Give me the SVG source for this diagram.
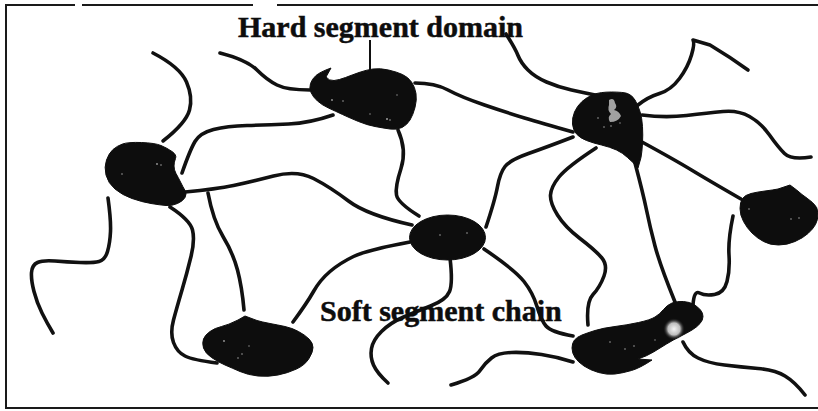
<svg xmlns="http://www.w3.org/2000/svg" width="818" height="411" viewBox="0 0 818 411">
  <style>
    .frame { fill: none; stroke: #1a1a1a; stroke-width: 2; }
    .chain { fill: none; stroke: #111; stroke-width: 3.6; stroke-linecap: round; stroke-linejoin: round; }
    .pointer { fill: none; stroke: #111; stroke-width: 2; }
    .domain { fill: #0d0d0d; stroke: #0d0d0d; stroke-width: 1; stroke-linejoin: round; }
    .speck { fill: #fff; opacity: 0.6; }
    .label { font-family: "Liberation Serif", "Times New Roman", serif; font-weight: bold; font-size: 30px; fill: #0d0d0d; stroke: #0d0d0d; stroke-width: 0.5; }
  </style>
  <defs>
    <radialGradient id="glint" cx="0.5" cy="0.5" r="0.5">
      <stop offset="0" stop-color="#f4f4f4"/>
      <stop offset="0.55" stop-color="#bdbdbd"/>
      <stop offset="1" stop-color="#0d0d0d" stop-opacity="0"/>
    </radialGradient>
  </defs>

  <rect width="818" height="411" fill="#fff"/>

  <!-- border (left, top, bottom) -->
  <path class="frame" d="M6,5 H75 M82,5 H253 M277,5 H818 M6,4 V408 H818"/>

  <!-- soft segment chains -->
  <g id="connectors">
    <path class="chain" d="M153,53 Q180,67 186.5,82 Q193,97 189.5,110 Q186,123 163,141"/>
    <path class="chain" d="M220,53 Q247,60 257,70 Q267,80 277,85 Q287,90 310,90"/>
    <path class="chain" d="M333,115 Q310,123 288.5,124 Q267,125 247,125.5 Q227,126 213.5,129.5 Q200,133 195,141.5 Q190,150 182,173"/>
    <path class="chain" d="M185,192 Q217,189 233.5,185.5 Q250,182 273.5,176 Q297,170 313.5,178.5 Q330,187 348.5,201 Q367,215 412,225"/>
    <path class="chain" d="M398,130 Q407,150 401,168.5 Q395,187 396.5,195 Q398,203 419,216"/>
    <path class="chain" d="M170,207 Q190,220 192.5,230 Q195,240 191,256.5 Q187,273 182,290 Q177,307 173.5,320 Q170,333 173.5,342.5 Q177,352 185,356 Q193,360 217,363"/>
    <path class="chain" d="M208,193 Q213,220 223,236.5 Q233,253 237.5,270 Q242,287 244,310"/>
    <path class="chain" d="M108,198 Q111,220 110.5,231.5 Q110,243 107.5,251.5 Q105,260 99,261.5 Q93,263 80,262.5 Q67,262 55,261 Q43,260 37.5,262.5 Q32,265 31.5,272.5 Q31,280 34,291.5 Q37,303 42,313 Q47,323 53,333"/>
    <path class="chain" d="M410,242 Q367,250 353.5,256.5 Q340,263 330,271.5 Q320,280 313.5,291.5 Q307,303 293,322"/>
    <path class="chain" d="M450,258 Q453,283 449.5,291.5 Q446,300 430.5,306 Q415,312 402.5,317.5 Q390,323 381.5,331.5 Q373,340 371.5,348.5 Q370,357 373.5,365 Q377,373 388,383"/>
    <path class="chain" d="M484,249 Q515,270 524,281.5 Q533,293 537,306.5 Q541,320 546,326 Q551,332 573,336"/>
    <path class="chain" d="M486,227 Q495,200 497.5,186.5 Q500,173 505,166.5 Q510,160 528.5,153.5 Q547,147 573,137"/>
    <path class="chain" d="M415,83 Q435,83 448,90 Q461,97 484.5,105 Q508,113 524.5,118 Q541,123 573,132"/>
    <path class="chain" d="M506,34 Q515,48 518,55.5 Q521,63 528,70 Q535,77 546.5,82 Q558,87 571.5,90 Q585,93 600,96"/>
    <path class="chain" d="M638,105 Q648,97 659.5,93.5 Q671,90 679.5,78.5 Q688,67 691.5,55 Q695,43 693,40 L710,45 Q730,57 748,70"/>
    <path class="chain" d="M642,115 Q665,118 686.5,115.5 Q708,113 723,111.5 Q738,110 749.5,116.5 Q761,123 769.5,135 Q778,147 784.5,153.5 Q791,160 811,157"/>
    <path class="chain" d="M642,142 Q675,160 691.5,170 Q708,180 741,199"/>
    <path class="chain" d="M596,148 Q567,167 559,177 Q551,187 550.5,195 Q550,203 557.5,215 Q565,227 580,238.5 Q595,250 601.5,257.5 Q608,265 604,276 Q600,287 593,294.5 Q586,302 588,325"/>
    <path class="chain" d="M635,163 Q643,193 646.5,210 Q650,227 655,246 Q660,265 675,302"/>
    <path class="chain" d="M733,216 Q728,240 729,255 Q730,270 727,281.5 Q724,293 714.5,294.5 Q705,296 699.5,293 Q694,290 693,305"/>
    <path class="chain" d="M683,342 Q688,353 698,358 Q708,363 724.5,365 Q741,367 758,368.5 Q775,370 785,376 Q795,382 805,395"/>
    <path class="chain" d="M573,362 Q558,357 541.5,354.5 Q525,352 511.5,352.5 Q498,353 491.5,358 Q485,363 480,370.5 Q475,378 451,385"/>
    <path class="pointer" d="M370,40 V71"/>
  </g>

  <!-- hard segment domains -->
  <g id="domain-a">
    <path class="domain" d="M122.5,144 Q128,142 141.5,142.5 Q155,143 161,145.5 Q167,148 172,151.5 Q177,155 175.5,158.5 Q174,162 174,166 Q174,170 176,173.5 Q178,177 180.5,182 Q183,187 185,190.5 Q187,194 185,197.5 Q183,201 177.5,203.5 Q172,206 166,205.5 Q160,205 151,203.5 Q142,202 132,198.5 Q122,195 115,189 Q108,183 106,175 Q104,167 106.5,160 Q109,153 113,149.5 Q117,146 122.5,144 Z"/>
    <circle class="speck" cx="157" cy="164" r="0.9"/>
    <circle class="speck" cx="161" cy="165" r="0.8"/>
    <circle class="speck" cx="122" cy="174" r="0.8"/>
  </g>

  <g id="domain-b">
    <path class="domain" d="M331,68 Q320,72 316,75.5 Q312,79 310.5,83.5 Q309,88 311,92.5 Q313,97 317.5,101 Q322,105 328.5,108 Q335,111 342.5,114.5 Q350,118 358.5,121.5 Q367,125 375,126.5 Q383,128 390,129 Q397,130 402,127.5 Q407,125 410,120 Q413,115 415,107.5 Q417,100 416,93.5 Q415,87 411.5,82 Q408,77 402.5,74.5 Q397,72 388.5,70 Q380,68 373,69 Q366,70 359,72.5 Q352,75 345.5,77.5 Q339,80 334,80.5 Q329,81 326,77 Z"/>
    <circle class="speck" cx="332" cy="100" r="0.9"/>
    <circle class="speck" cx="343" cy="101" r="0.8"/>
    <circle class="speck" cx="387" cy="119" r="1"/>
    <circle class="speck" cx="390" cy="120" r="0.8"/>
    <circle class="speck" cx="370" cy="114" r="0.7"/>
    <circle class="speck" cx="397" cy="95" r="0.7"/>
  </g>

  <g id="domain-c">
    <path class="domain" d="M593.5,94.5 Q600,92 611.5,92 Q623,92 627.5,93.5 Q632,95 635,100 Q638,105 640,111.5 Q642,118 642.5,126.5 Q643,135 642.5,143.5 Q642,152 641,157.5 L638,168 Q634,163 627.5,157.5 Q623,153 616.5,150 Q610,147 601.5,145 Q593,143 586.5,140.5 Q580,138 576.5,134 Q573,130 572.5,124 Q572,118 574.5,112 Q577,106 582,101.5 Q587,97 593.5,94.5 Z"/>
    <path d="M609,100 Q614,97 615,103 Q618,107 614,110 Q619,111 621,116 Q618,122 610,122 Q607,117 611,114 Q607,110 609,105 Z" fill="#a0a0a0"/>
    <circle class="speck" cx="598" cy="118" r="0.8"/>
    <circle class="speck" cx="604" cy="127" r="0.8"/>
    <circle class="speck" cx="611" cy="126" r="0.8"/>
    <circle class="speck" cx="620" cy="123" r="0.7"/>
  </g>

  <g id="domain-d">
    <ellipse class="domain" cx="447.5" cy="237.5" rx="38" ry="22.5"/>
    <circle class="speck" cx="440" cy="235" r="0.8"/>
    <circle class="speck" cx="467" cy="233" r="0.8"/>
  </g>

  <g id="domain-e">
    <path class="domain" d="M742.5,198.5 Q745,195 751,193.5 Q757,192 765,191 Q773,190 778,189 L790,185 Q797,190 802,194.5 Q807,198 812.5,202.5 Q818,207 818,213.5 Q818,220 815.5,224.5 Q813,229 808,233.5 Q803,238 795,241.5 Q787,245 778.5,245 Q770,245 763.5,241.5 Q757,238 752,233 Q747,228 743.5,221.5 Q740,215 740,208.5 Q740,202 742.5,198.5 Z"/>
    <circle class="speck" cx="749" cy="209" r="0.8"/>
    <circle class="speck" cx="791" cy="219" r="0.8"/>
    <circle class="speck" cx="799" cy="218" r="0.8"/>
  </g>

  <g id="domain-f">
    <path class="domain" d="M245,316 L238,320 Q228,325 221.5,326.5 Q215,328 210,331.5 Q205,335 203.5,339 Q202,343 203.5,348 Q205,353 211.5,357.5 Q218,362 225,365 Q232,368 240,371.5 Q248,375 258,376 Q268,377 278,375 Q288,373 296.5,369 Q305,365 309,358.5 Q313,352 313,347.5 Q313,343 309,339 Q305,335 298.5,331.5 Q292,328 285,326.5 Q278,325 270,323.5 Q262,322 257,320.5 Z"/>
    <circle class="speck" cx="224" cy="341" r="0.9"/>
    <circle class="speck" cx="242" cy="354" r="0.8"/>
    <circle class="speck" cx="238" cy="358" r="0.8"/>
    <circle class="speck" cx="249" cy="346" r="0.7"/>
  </g>

  <g id="domain-g">
    <path class="domain" d="M582,335 Q587,333 595,330.5 Q603,328 615,326.5 Q627,325 638.5,322.5 Q650,320 655,317 Q660,314 663.5,309.5 Q667,305 672,303 Q677,301 683.5,301.5 Q690,302 694,304.5 Q698,307 700.5,310 Q703,313 703,316.5 Q703,320 700,323.5 Q697,327 692,330 Q687,333 680,336.5 Q673,340 666.5,344 Q660,348 653.5,352 Q647,356 638,359 L652,360 Q640,368 631.5,370.5 Q623,373 615,374 Q607,375 598.5,372.5 Q590,370 584,366 Q578,362 575,357.5 Q572,353 572,348 Q572,343 574.5,340 Q577,337 582,335 Z"/>
    <circle cx="674" cy="329" r="11" fill="url(#glint)"/>
    <circle class="speck" cx="610" cy="342" r="0.8"/>
    <circle class="speck" cx="625" cy="349" r="0.8"/>
    <circle class="speck" cx="634" cy="346" r="0.8"/>
    <circle class="speck" cx="655" cy="340" r="0.7"/>
  </g>

  <!-- labels -->
  <text class="label" x="238" y="37">Hard segment domain</text>
  <text class="label" x="320" y="321">Soft segment chain</text>
</svg>
